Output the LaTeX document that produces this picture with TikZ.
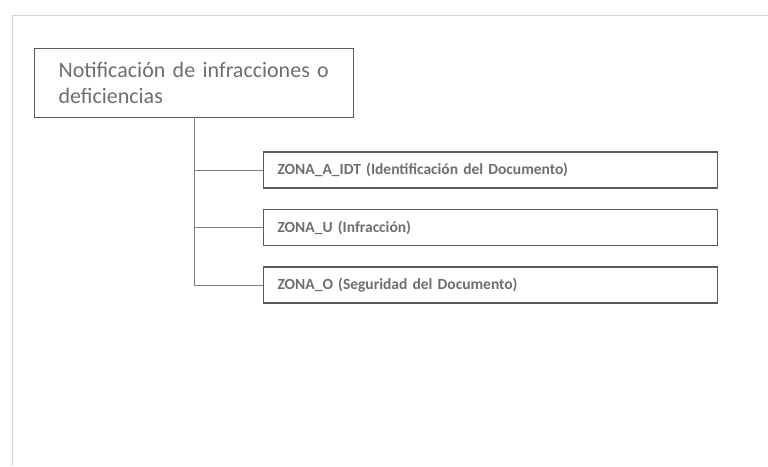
\documentclass[tikz,border=0pt]{standalone}
\usepackage{fontspec}
\setmainfont{Carlito}
\definecolor{inkgray}{HTML}{5A5A5A}
\definecolor{txtgray}{HTML}{6E6E6E}
\definecolor{scangray}{HTML}{D4D4D4}
\begin{document}
\begin{tikzpicture}[x=1pt, y=-1pt,
    parent/.style = {draw = inkgray, line width = 1.1pt, anchor = north west,
      minimum width = 319pt, minimum height = 69pt, inner xsep = 24pt,
      text width = 271pt, align = left, text = txtgray,
      font = \fontsize{22}{26}\selectfont},
    zone/.style = {draw = inkgray, line width = 1.1pt, anchor = west,
      minimum width = 454pt, minimum height = 36pt, inner xsep = 14pt,
      text width = 426pt, align = left, text = txtgray,
      font = \fontsize{15.5}{18}\selectfont\bfseries},
    link/.style = {draw = gray, line width = 0.6pt}]
    \useasboundingbox (0, 0) rectangle (768, 466);
    \draw [scangray, line width = 0.8pt] (12, 466) -- (12, 15) -- (768, 15);
    \node [parent] (notif) at (34, 48) {Notificación de infracciones o\\deficiencias};
    \node [zone] (zonaA) at (263, 170) {ZONA\_A\_IDT (Identificación del Documento)};
    \node [zone] (zonaU) at (263, 227.5) {ZONA\_U (Infracción)};
    \node [zone] (zonaO) at (263, 285) {ZONA\_O (Seguridad del Documento)};
    \draw [link] (notif.south) |- (zonaO.west);
    \draw [link] (notif.south |- zonaA.west) -- (zonaA.west);
    \draw [link] (notif.south |- zonaU.west) -- (zonaU.west);
  \end{tikzpicture}
\end{document}
